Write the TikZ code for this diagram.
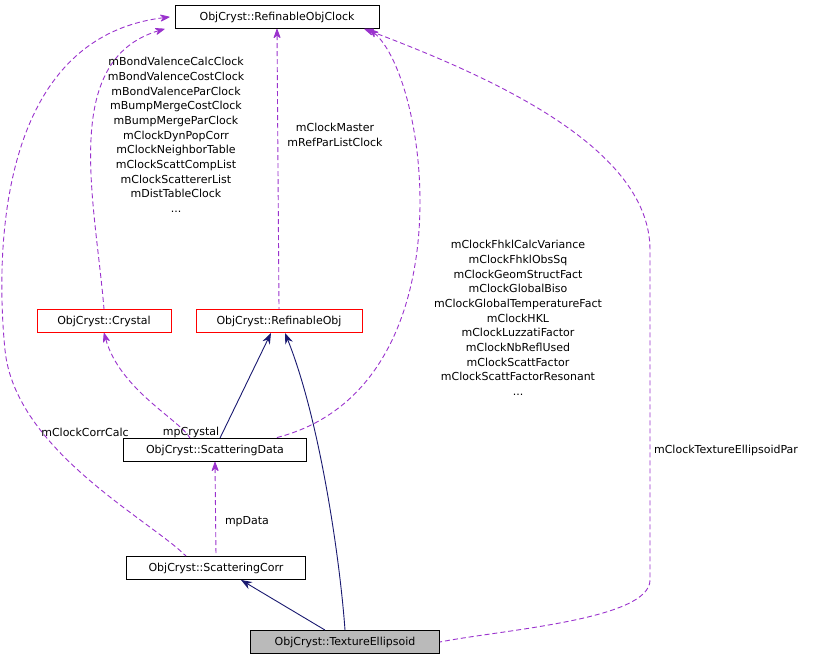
\documentclass[tikz,border=0pt]{standalone}
\usepackage{fontspec}
\setmainfont{DejaVu Sans}
\usetikzlibrary{arrows.meta}
\definecolor{usecol}{HTML}{9A32CD}
\definecolor{inhcol}{HTML}{191970}

\tikzset{
  cls/.style={draw=black,fill=white,inner sep=0pt,minimum height=23pt,line width=0.9pt,font=\fontsize{11}{14.7}\selectfont},
  ext/.style={cls,draw=red},
  usage/.style={draw=usecol,line width=0.9pt,dash pattern=on 5pt off 3pt,{Stealth[length=11pt,width=8pt,sep=0pt,round]}-},
  inherit/.style={draw=inhcol,line width=0.9pt,{Stealth[length=11pt,width=8pt]}-},
  lbl/.style={font=\fontsize{11}{14.7}\selectfont,align=center,inner sep=0pt}
}

\begin{document}
\begin{tikzpicture}[x=1pt,y=-1pt]
  \useasboundingbox (0,0) rectangle (833,663);
  % classes
  \node[cls,minimum width=204pt] (clock) at (277,17) {ObjCryst::RefinableObjClock};
  \node[ext,minimum width=134pt] (crystal) at (104,321) {ObjCryst::Crystal};
  \node[ext,minimum width=166pt] (refobj) at (279,321) {ObjCryst::RefinableObj};
  \node[cls,minimum width=183pt] (sdata) at (215,450) {ObjCryst::ScatteringData};
  \node[cls,minimum width=179pt] (scorr) at (216,568) {ObjCryst::ScatteringCorr};
  \node[cls,minimum width=189pt,fill=black!27] (tex) at (345,642) {ObjCryst::TextureEllipsoid};

  % usage relations
  \draw[usage] (clock.south west) ++(-10,0) coordinate (c1)
    (c1) .. controls (60,60) and (95,200) .. (crystal.north);
  \draw[usage] (clock.south) -- (refobj.north);
  \draw[usage] ([xshift=-10pt]clock.south east) .. controls (430,80) and (470,390) .. ([xshift=60pt]sdata.north);
  \draw[usage] (crystal.south) .. controls (120,390) and (180,420) .. ([xshift=-25pt]sdata.north);
  \draw[usage] (sdata.south) -- (scorr.north);
  \draw[usage] ([xshift=-5pt]clock.west) .. controls (-20,40) and (0,300) .. (5,350)
    .. controls (15,450) and (150,520) .. ([xshift=-30pt]scorr.north);
  \draw[usage] ([xshift=-15pt]clock.south east) .. controls (500,80) and (650,150) .. (650,250)
    -- (650,580) .. controls (650,620) and (500,630) .. (tex.east);

  % inheritance
  \draw[inherit] ([xshift=-8pt]refobj.south) -- ([xshift=5pt]sdata.north);
  \draw[inherit] ([xshift=6pt]refobj.south) .. controls (320,420) and (340,560) .. ([xshift=0pt]tex.north);
  \draw[inherit] ([xshift=25pt]scorr.south) -- ([xshift=-20pt]tex.north);

  % labels
  \node[lbl] (lcry) at (176,135) {mBondValenceCalcClock\\mBondValenceCostClock\\mBondValenceParClock\\mBumpMergeCostClock\\mBumpMergeParClock\\mClockDynPopCorr\\mClockNeighborTable\\mClockScattCompList\\mClockScattererList\\mDistTableClock\\...};
  \node[lbl] (lref) at (335,135) {mClockMaster\\mRefParListClock};
  \node[lbl] (lsd) at (518,318) {mClockFhklCalcVariance\\mClockFhklObsSq\\mClockGeomStructFact\\mClockGlobalBiso\\mClockGlobalTemperatureFact\\mClockHKL\\mClockLuzzatiFactor\\mClockNbReflUsed\\mClockScattFactor\\mClockScattFactorResonant\\...};
  \node[lbl] (lpc) at (191,432) {mpCrystal};
  \node[lbl] (lpd) at (247,522) {mpData};
  \node[lbl] (lcc) at (85,432) {mClockCorrCalc};
  \node[lbl] (ltx) at (726,450) {mClockTextureEllipsoidPar};
\end{tikzpicture}
\end{document}
